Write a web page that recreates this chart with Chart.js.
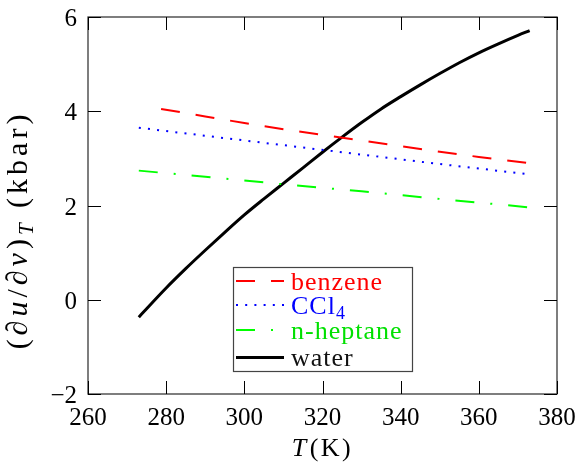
<!DOCTYPE html>
<html><head><meta charset="utf-8">
<script src="https://cdn.jsdelivr.net/npm/chart.js@4/dist/chart.umd.min.js"></script>
<style>html,body{margin:0;padding:0;background:#fff}#wrap{width:579px;height:463px;position:relative}
.pre{position:absolute;left:-999px;top:0;font-family:'Liberation Serif';font-size:20px}</style>
</head><body><div id="wrap"><canvas id="c" width="579" height="463"></canvas></div>
<span class="pre">a∂0123456789</span><span class="pre" style="font-style:italic">T∂</span>
<script>
// ---- data ----
const waterT = [273, 275, 280, 285, 290, 295, 300, 305, 310, 315, 320, 325, 330, 335, 340, 345, 350, 355, 360, 365, 370, 373];
const waterV = [-0.37, -0.19, 0.25, 0.66, 1.05, 1.43, 1.80, 2.14, 2.47, 2.80, 3.13, 3.45, 3.76, 4.05, 4.31, 4.56, 4.80, 5.03, 5.24, 5.43, 5.61, 5.71];
const benzeneT = [278.7, 290, 300, 310, 320, 330, 340, 350, 360, 373];
const benzeneV = [4.05, 3.89, 3.75, 3.62, 3.50, 3.38, 3.26, 3.14, 3.03, 2.90];
const ccl4T = [273, 290, 310, 330, 350, 373];
const ccl4V = [3.65, 3.48, 3.28, 3.08, 2.88, 2.66];
const heptaneT = [273, 290, 310, 330, 350, 373];
const heptaneV = [2.74, 2.61, 2.45, 2.30, 2.14, 1.96];
const seriesNames = ['benzene', 'CCl4', 'n-heptane', 'water'];
const xTickValues = [260, 280, 300, 320, 340, 360, 380];
const yTickValues = [-2, 0, 2, 4, 6];

const pts = (T, V) => T.map((t, i) => ({x: t, y: V[i]}));
const FAM = 'Liberation Serif';
const SERIF = "'Liberation Serif', 'DejaVu Serif', serif";
const fmtTick = v => v < 0 ? '\u2212' + Math.abs(v) : String(v);

const frameAndLegend = {
  id: 'frameAndLegend',
  afterDraw(chart) {
    const ctx = chart.ctx, a = chart.chartArea;
    const xs = chart.scales.x, ys = chart.scales.y;
    ctx.save();
    ctx.strokeStyle = '#3a3a3a'; ctx.lineWidth = 1.3;
    ctx.strokeRect(a.left, a.top, a.right - a.left, a.bottom - a.top);
    ctx.strokeStyle = '#000'; ctx.lineWidth = 1;
    const TL = 13;
    ctx.beginPath();
    xs.ticks.forEach(t => {
      const px = Math.round(xs.getPixelForValue(t.value)) + 0.5;
      ctx.moveTo(px, a.bottom); ctx.lineTo(px, a.bottom - TL);
      ctx.moveTo(px, a.top); ctx.lineTo(px, a.top + TL);
    });
    ys.ticks.forEach(t => {
      const py = Math.round(ys.getPixelForValue(t.value)) + 0.5;
      ctx.moveTo(a.left, py); ctx.lineTo(a.left + TL, py);
      ctx.moveTo(a.right, py); ctx.lineTo(a.right - TL, py);
    });
    ctx.stroke();

    // tick labels, placed through the library's scales (left-aligned drawing)
    try { ctx.letterSpacing = '0px'; } catch (e) {}
    ctx.fillStyle = '#000'; ctx.font = `25px ${SERIF}`; ctx.textBaseline = 'alphabetic';
    ctx.textAlign = 'left';
    xs.ticks.forEach(t => {
      const s = fmtTick(t.value), w = ctx.measureText(s).width;
      ctx.fillText(s, xs.getPixelForValue(t.value) - w / 2, a.bottom + 31);
    });
    ys.ticks.forEach(t => {
      const s = fmtTick(t.value), w = ctx.measureText(s).width;
      ctx.fillText(s, a.left - 11 - w, ys.getPixelForValue(t.value) + 9);
    });

    // x title
    let fs = 26;
    try { ctx.letterSpacing = '2.5px'; } catch (e) {}
    ctx.font = `italic ${fs}px ${SERIF}`;
    const wT = ctx.measureText('T').width;
    ctx.font = `${fs}px ${SERIF}`;
    const wK = ctx.measureText('(K)').width;
    let x0 = 322 - (wT + wK) / 2;
    ctx.font = `italic ${fs}px ${SERIF}`; ctx.fillText('T', x0, 456);
    ctx.font = `${fs}px ${SERIF}`; ctx.fillText('(K)', x0 + wT + 1, 456);

    // y title
    fs = 30;
    try { ctx.letterSpacing = '4px'; } catch (e) {}
    const pieces = [
      {t: '(∂', f: `${fs}px ${SERIF}`, dy: 0},
      {t: 'u', f: `italic ${fs}px ${SERIF}`, dy: 0},
      {t: '/∂', f: `${fs}px ${SERIF}`, dy: 0},
      {t: 'v', f: `italic ${fs}px ${SERIF}`, dy: 0},
      {t: ')', f: `${fs}px ${SERIF}`, dy: 0},
      {t: 'T', f: `italic ${Math.round(fs * 0.7)}px ${SERIF}`, dy: 6},
      {t: ' (kbar)', f: `${fs}px ${SERIF}`, dy: 0}
    ];
    let total = 0;
    pieces.forEach(p => { ctx.font = p.f; p.w = ctx.measureText(p.t).width; total += p.w; });
    ctx.translate(27, 230); ctx.rotate(-Math.PI / 2);
    let cx = -total / 2;
    pieces.forEach(p => { ctx.font = p.f; ctx.fillText(p.t, cx, p.dy); cx += p.w; });
    ctx.setTransform(1, 0, 0, 1, 0, 0);
    try { ctx.letterSpacing = '1px'; } catch (e) {}

    // legend
    const L = {left: 233, top: 267, right: 412, bottom: 371};
    ctx.fillStyle = '#fff';
    ctx.fillRect(L.left, L.top, L.right - L.left, L.bottom - L.top);
    ctx.strokeStyle = '#444'; ctx.lineWidth = 1.2;
    ctx.strokeRect(L.left + 0.5, L.top + 0.5, L.right - L.left, L.bottom - L.top);
    const baselines = [289.5, 313.5, 338.5, 366];
    chart.data.datasets.forEach((ds, i) => {
      const bl = baselines[i], ly = bl - 8.5;
      ctx.save();
      ctx.strokeStyle = ds.borderColor; ctx.lineWidth = ds.borderWidth;
      ctx.setLineDash(ds.borderDash || []); ctx.lineCap = 'butt';
      ctx.beginPath(); ctx.moveTo(236, ly); ctx.lineTo(284, ly); ctx.stroke();
      ctx.restore();
      ctx.fillStyle = ds.textColor;
      ctx.font = `26px ${SERIF}`;
      const lab = ds.label;
      if (lab === 'CCl4') {
        ctx.fillText('CCl', 291, bl);
        const w = ctx.measureText('CCl').width;
        ctx.font = `18px ${SERIF}`;
        ctx.fillText('4', 291 + w, bl + 5);
      } else {
        ctx.fillText(lab, 291, bl);
      }
    });
    ctx.restore();
  }
};

function draw() {
  Chart.defaults.font.family = FAM;
  Chart.defaults.font.size = 25;
  new Chart(document.getElementById('c'), {
    type: 'line',
    data: {
      datasets: [
        {label: seriesNames[0], data: pts(benzeneT, benzeneV), borderColor: '#ff0000', textColor: '#ff0000', borderWidth: 2, borderDash: [19, 16], pointRadius: 0, fill: false, tension: 0},
        {label: seriesNames[1], data: pts(ccl4T, ccl4V), borderColor: '#0000ff', textColor: '#0000ff', borderWidth: 2, borderDash: [2, 7.2], pointRadius: 0, fill: false, tension: 0},
        {label: seriesNames[2], data: pts(heptaneT, heptaneV), borderColor: '#00ff00', textColor: '#00e000', borderWidth: 2, borderDash: [19, 16, 2, 16], pointRadius: 0, fill: false, tension: 0},
        {label: seriesNames[3], data: pts(waterT, waterV), borderColor: '#000000', textColor: '#111', borderWidth: 3, pointRadius: 0, fill: false, cubicInterpolationMode: 'monotone'}
      ]
    },
    options: {
      responsive: false,
      animation: false,
      devicePixelRatio: 1,
      layout: {padding: {left: 0, right: 22, top: 17, bottom: 0}},
      plugins: {legend: {display: false}, tooltip: {enabled: false}},
      scales: {
        x: {
          type: 'linear', min: 260, max: 380,
          afterBuildTicks: s => { s.ticks = xTickValues.map(v => ({value: v})); },
          afterFit: s => { s.height = 69; s.paddingLeft = 0; s.paddingRight = 0; },
          ticks: {display: false, callback: fmtTick},
          grid: {display: false, drawTicks: false},
          border: {display: false}
        },
        y: {
          type: 'linear', min: -2, max: 6,
          afterBuildTicks: s => { s.ticks = yTickValues.map(v => ({value: v})); },
          afterFit: s => { s.width = 88; s.paddingTop = 0; s.paddingBottom = 0; },
          ticks: {display: false, callback: fmtTick},
          grid: {display: false, drawTicks: false},
          border: {display: false}
        }
      }
    },
    plugins: [frameAndLegend]
  });
}
const loads = ["25px 'Liberation Serif'", "italic 25px 'Liberation Serif'"].map(f => document.fonts.load(f, 'a∂T0123456789'));
Promise.all(loads).then(draw, draw);
</script>
</body></html>
